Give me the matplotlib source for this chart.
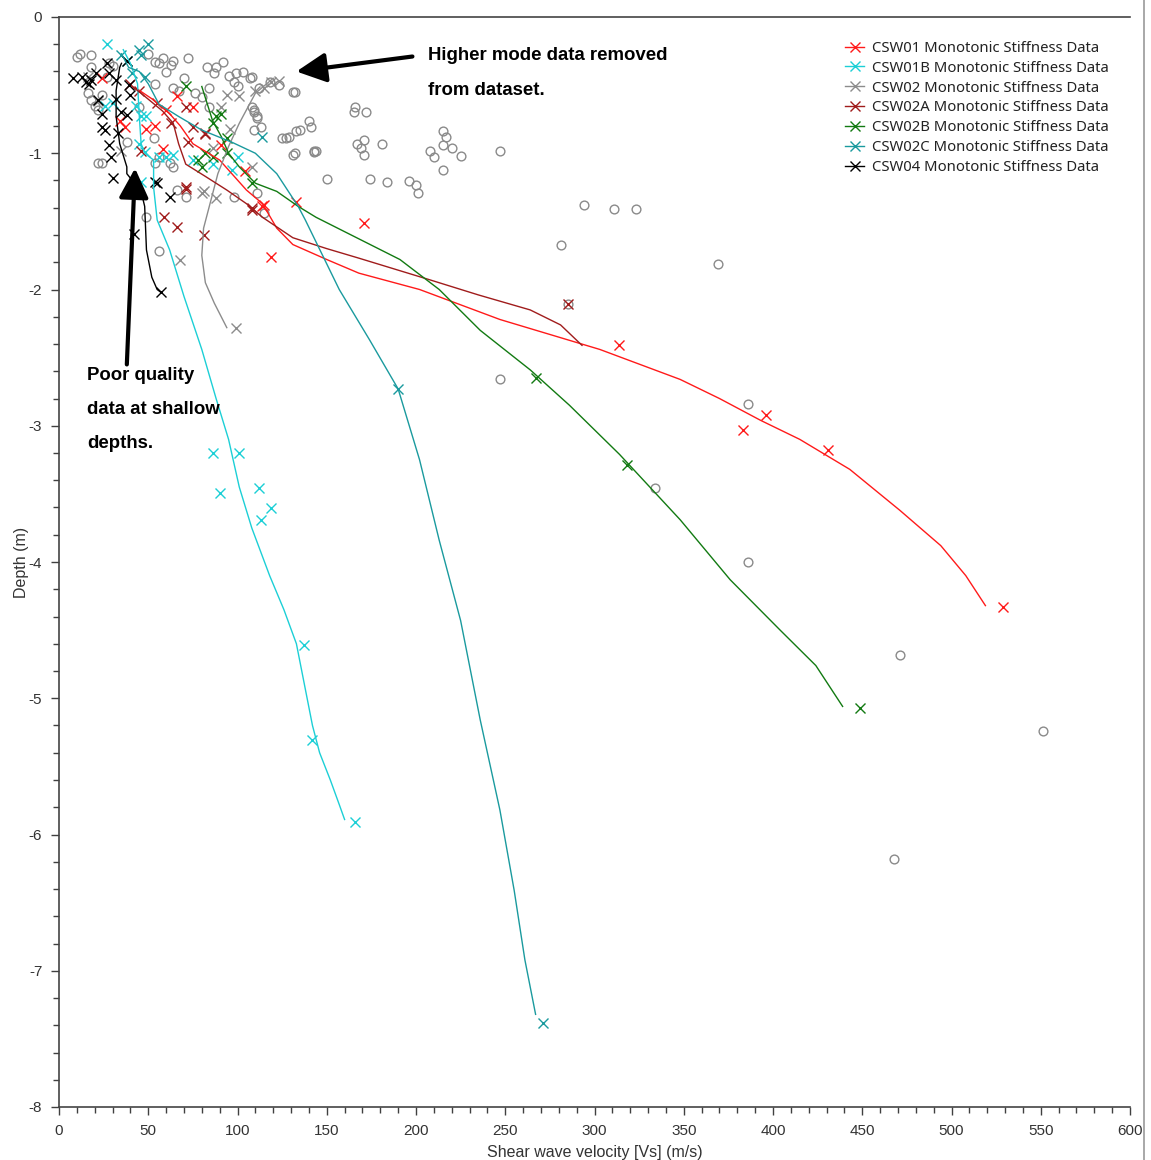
import matplotlib
matplotlib.use("Agg")
import matplotlib.pyplot as plt
from matplotlib.lines import Line2D

plt.rcParams["axes.unicode_minus"] = False

# ---------------- data ----------------
series_names = ["CSW01 Monotonic Stiffness Data", "CSW01B Monotonic Stiffness Data",
                "CSW02 Monotonic Stiffness Data", "CSW02A Monotonic Stiffness Data",
                "CSW02B Monotonic Stiffness Data", "CSW02C Monotonic Stiffness Data",
                "CSW04 Monotonic Stiffness Data"]
series_colors = ["#ff1a1a", "#1ccfd6", "#8c8c8c", "#a01c1c", "#127a12", "#1a9a9e", "#000000"]

# fitted profiles (Vs m/s, depth m)
csw01_line_v = [44, 52, 62, 68, 75, 90, 105, 114, 122, 131, 150, 168, 202, 247, 303, 348, 370, 393, 415, 443, 471, 494, 508, 519]
csw01_line_d = [-0.53, -0.60, -0.71, -0.80, -0.93, -1.05, -1.27, -1.37, -1.55, -1.67, -1.78, -1.88, -2.0, -2.22, -2.44, -2.66, -2.80, -2.96, -3.10, -3.32, -3.62, -3.88, -4.10, -4.32]
csw01b_line_v = [36, 40, 44, 45, 46, 48, 53, 53, 53, 55, 62, 70, 80, 88, 95, 101, 108, 118, 126, 133, 136, 139, 142, 146, 152, 157, 160]
csw01b_line_d = [-0.24, -0.34, -0.49, -0.73, -0.93, -1.0, -1.05, -1.15, -1.25, -1.49, -1.71, -2.05, -2.44, -2.8, -3.1, -3.45, -3.75, -4.1, -4.35, -4.6, -4.8, -5.0, -5.2, -5.4, -5.6, -5.78, -5.89]
csw02_line_v = [120, 110, 101, 95, 89, 85, 81, 80, 82, 87, 94]
csw02_line_d = [-0.45, -0.56, -0.78, -0.95, -1.15, -1.35, -1.55, -1.75, -1.95, -2.10, -2.28]
csw02a_line_v = [41, 46, 58, 64, 67, 71, 82, 94, 105, 114, 131, 150, 168, 208, 235, 264, 281, 293]
csw02a_line_d = [-0.51, -0.56, -0.69, -0.78, -0.93, -1.08, -1.17, -1.27, -1.37, -1.47, -1.62, -1.70, -1.77, -1.93, -2.04, -2.15, -2.26, -2.41]
csw02b_line_v = [80, 86, 91, 95, 101, 110, 122, 134, 144, 191, 213, 236, 264, 286, 314, 348, 376, 404, 424, 439]
csw02b_line_d = [-0.51, -0.76, -0.88, -1.0, -1.10, -1.22, -1.28, -1.39, -1.47, -1.78, -2.0, -2.30, -2.59, -2.85, -3.21, -3.69, -4.13, -4.50, -4.76, -5.06]
csw02c_line_v = [35, 39, 45, 50, 56, 67, 80, 97, 110, 122, 134, 138, 157, 174, 190, 202, 213, 225, 236, 247, 255, 261, 267]
csw02c_line_d = [-0.27, -0.37, -0.40, -0.49, -0.64, -0.73, -0.83, -0.92, -1.0, -1.15, -1.39, -1.49, -2.0, -2.37, -2.73, -3.25, -3.84, -4.43, -5.16, -5.82, -6.41, -6.92, -7.32]
csw04_line_v = [35, 34, 32, 32, 34, 38, 38, 46, 48, 49, 52, 55, 57]
csw04_line_d = [-0.34, -0.37, -0.54, -0.73, -0.93, -1.10, -1.15, -1.28, -1.39, -1.71, -1.91, -2.0, -2.02]

# measured points (x markers)
csw01_pts_v = [24, 34, 37, 49, 54, 60, 58, 91, 114, 133, 115, 119, 171, 314, 383, 396, 431, 529, 75, 66, 104]
csw01_pts_d = [-0.45, -0.76, -0.81, -0.82, -0.80, -0.68, -0.97, -0.94, -1.39, -1.36, -1.38, -1.76, -1.51, -2.41, -3.03, -2.92, -3.18, -4.33, -0.66, -0.58, -1.13]
csw01b_pts_v = [27, 26, 30, 43, 46, 49, 45, 48, 56, 60, 64, 75, 86, 97, 100, 46, 101, 86, 90, 112, 113, 119, 137, 142, 166]
csw01b_pts_d = [-0.20, -0.65, -0.63, -0.65, -0.73, -0.73, -0.93, -0.99, -1.03, -1.03, -1.01, -1.05, -1.08, -1.12, -1.03, -1.21, -3.20, -3.20, -3.49, -3.46, -3.69, -3.60, -4.61, -5.31, -5.91]
csw02_pts_v = [94, 101, 110, 115, 119, 123, 91, 86, 108, 81, 88, 80, 68, 99, 16, 22, 35, 96]
csw02_pts_d = [-0.57, -0.58, -0.54, -0.52, -0.48, -0.47, -0.66, -0.96, -1.10, -1.28, -1.33, -1.29, -1.78, -2.28, -0.44, -0.62, -0.98, -0.82]
csw02a_pts_v = [40, 45, 63, 71, 75, 82, 46, 71, 59, 66, 71, 81, 108, 82, 108, 285, 55, 72]
csw02a_pts_d = [-0.49, -0.54, -0.78, -0.66, -0.81, -0.86, -0.98, -1.25, -1.47, -1.54, -1.26, -1.60, -1.42, -0.85, -1.40, -2.11, -0.63, -0.92]
csw02b_pts_v = [71, 88, 91, 86, 94, 78, 82, 86, 94, 80, 108, 267, 318, 449]
csw02b_pts_d = [-0.51, -0.73, -0.71, -0.78, -0.89, -1.05, -1.0, -1.03, -1.0, -1.10, -1.22, -2.65, -3.29, -5.07]
csw02c_pts_v = [35, 38, 45, 46, 48, 41, 114, 190, 271, 50]
csw02c_pts_d = [-0.28, -0.32, -0.24, -0.28, -0.44, -0.41, -0.88, -2.73, -7.38, -0.20]
csw04_pts_v = [13, 17, 18, 21, 27, 28, 32, 38, 22, 24, 32, 39, 40, 35, 38, 24, 26, 28, 29, 30, 33, 54, 62, 42, 55, 57, 8, 15]
csw04_pts_d = [-0.44, -0.49, -0.46, -0.41, -0.34, -0.41, -0.46, -0.32, -0.61, -0.71, -0.60, -0.50, -0.57, -0.70, -0.72, -0.81, -0.83, -0.94, -1.03, -1.18, -0.85, -1.21, -1.32, -1.59, -1.22, -2.02, -0.45, -0.48]

# higher mode data removed (grey circles)
removed_v = [108, 112, 118, 123, 131, 109, 111, 109, 125, 129, 133, 135, 140, 141, 131, 143, 150, 166, 165, 172,
             167, 171, 169, 171, 181, 174, 184, 196, 200, 201, 208, 210, 215, 217, 215, 220, 225, 215, 247,
             83, 88, 87, 95, 99, 103, 107, 98, 100, 84, 80, 132, 108, 109, 111, 113, 84,
             12, 18, 18, 28, 27, 16, 18, 20, 22, 50, 54, 56, 63, 64, 54, 64, 67, 45, 24,
             24, 38, 62, 64, 66, 71, 49, 56, 54, 53, 22, 56, 98, 111, 115, 132, 143, 144, 127,
             294, 311, 323, 281, 369, 247, 334, 386, 386, 471, 551, 468, 285, 10, 30, 58,
             70, 76, 92, 60, 72]
removed_d = [-0.44, -0.52, -0.48, -0.50, -0.55, -0.68, -0.73, -0.83, -0.89, -0.88, -0.84, -0.83, -0.76, -0.81, -1.01, -0.98, -1.19, -0.66, -0.70, -0.70,
             -0.93, -0.90, -0.96, -1.01, -0.93, -1.19, -1.21, -1.20, -1.23, -1.29, -0.98, -1.03, -0.84, -0.88, -0.94, -0.96, -1.02, -1.12, -0.98,
             -0.37, -0.37, -0.41, -0.43, -0.41, -0.40, -0.45, -0.48, -0.51, -0.52, -0.59, -0.55, -0.66, -0.70, -0.74, -0.81, -0.66,
             -0.27, -0.28, -0.37, -0.34, -0.44, -0.56, -0.61, -0.65, -0.68, -0.27, -0.33, -0.34, -0.35, -0.32, -0.49, -0.52, -0.54, -0.66, -0.57,
             -1.07, -0.92, -1.07, -1.10, -1.27, -1.32, -1.47, -1.72, -1.07, -0.89, -1.07, -1.03, -1.32, -1.29, -1.44, -1.00, -0.99, -0.98, -0.89,
             -1.38, -1.41, -1.41, -1.67, -1.81, -2.66, -3.46, -2.84, -4.00, -4.68, -5.24, -6.18, -2.11, -0.29, -0.36, -0.30,
             -0.45, -0.56, -0.33, -0.40, -0.30]

x_ticks = [0, 50, 100, 150, 200, 250, 300, 350, 400, 450, 500, 550, 600]
y_ticks = [0, -1, -2, -3, -4, -5, -6, -7, -8]

lines_v = [csw01_line_v, csw01b_line_v, csw02_line_v, csw02a_line_v, csw02b_line_v, csw02c_line_v, csw04_line_v]
lines_d = [csw01_line_d, csw01b_line_d, csw02_line_d, csw02a_line_d, csw02b_line_d, csw02c_line_d, csw04_line_d]
pts_v = [csw01_pts_v, csw01b_pts_v, csw02_pts_v, csw02a_pts_v, csw02b_pts_v, csw02c_pts_v, csw04_pts_v]
pts_d = [csw01_pts_d, csw01b_pts_d, csw02_pts_d, csw02a_pts_d, csw02b_pts_d, csw02c_pts_d, csw04_pts_d]

# ---------------- figure ----------------
tick_font = ["Liberation Sans", "DejaVu Sans"]
fig = plt.figure(figsize=(11.51, 11.60), dpi=100)
ax = fig.add_axes([59 / 1151, 1 - 1107 / 1160, (1130 - 59) / 1151, (1107 - 17) / 1160])

ax.plot(removed_v, removed_d, linestyle="none", marker="o", ms=6.3, mfc="none",
        mec="#8a8a8a", mew=1.0, zorder=1)

for lv, ld, pv, pd_, c in zip(lines_v, lines_d, pts_v, pts_d, series_colors):
    ax.plot(lv, ld, color=c, lw=1.0, zorder=3)
    ax.plot(pv, pd_, linestyle="none", marker="x", ms=7, mew=1.0, color=c, zorder=2)

ax.set_xlim(0, 600)
ax.set_ylim(-8, 0)
ax.set_xticks(x_ticks)
ax.set_yticks(y_ticks)
ax.set_xticks(range(0, 601, 10), minor=True)
ax.set_yticks([-8 + 0.2 * i for i in range(41)], minor=True)
ax.tick_params(axis="both", which="major", direction="out", length=6, width=1, color="#404040",
               labelsize=11, labelcolor="#333333", pad=6)
ax.tick_params(axis="both", which="minor", direction="out", length=4, width=1, color="#404040")
for lab in ax.get_xticklabels() + ax.get_yticklabels():
    lab.set_family(tick_font)
ax.spines["right"].set_visible(False)
for s in ["left", "bottom", "top"]:
    ax.spines[s].set_color("#444444")
    ax.spines[s].set_linewidth(1.2)

ax.set_xlabel("Shear wave velocity [Vs] (m/s)", family=tick_font, fontsize=11.5, color="#333333", labelpad=5)
ax.set_ylabel("Depth (m)", family=tick_font, fontsize=11.5, color="#333333", labelpad=0)

# legend
handles = [Line2D([0], [0], color=c, lw=1.0, marker="x", ms=7, mew=1.0) for c in series_colors]
leg = ax.legend(handles, series_names, loc="upper left", bbox_to_anchor=(0.727, 0.985),
                frameon=False, handlelength=1.3, handletextpad=0.5, labelspacing=0.33,
                borderpad=0, prop={"family": ["Noto Sans", "DejaVu Sans"], "size": 10.7})
for t in leg.get_texts():
    t.set_color("#222222")

# annotations
tfont = {"family": ["Liberation Sans", "DejaVu Sans"], "weight": "bold", "size": 13.4, "color": "black"}
ax.annotate("", xy=(133, -0.40), xytext=(198, -0.29),
            arrowprops=dict(arrowstyle="-|>,head_length=0.9,head_width=0.45", lw=3, color="black",
                            shrinkA=0, shrinkB=0, mutation_scale=20))
ax.text(207, -0.285, "Higher mode data removed", va="center", ha="left", **tfont)
ax.text(207, -0.54, "from dataset.", va="center", ha="left", **tfont)

ax.annotate("", xy=(42.6, -1.11), xytext=(38, -2.55),
            arrowprops=dict(arrowstyle="-|>,head_length=0.9,head_width=0.45", lw=3, color="black",
                            shrinkA=0, shrinkB=0, mutation_scale=20))
ax.text(15.7, -2.63, "Poor quality", va="center", ha="left", **tfont)
ax.text(15.7, -2.88, "data at shallow", va="center", ha="left", **tfont)
ax.text(15.7, -3.13, "depths.", va="center", ha="left", **tfont)

# right window border
fig.add_artist(Line2D([1144 / 1151, 1144 / 1151], [0, 1], transform=fig.transFigure,
                      color="#9a9a9a", lw=1.2))

fig.savefig("out.png", dpi=100, facecolor="white")
